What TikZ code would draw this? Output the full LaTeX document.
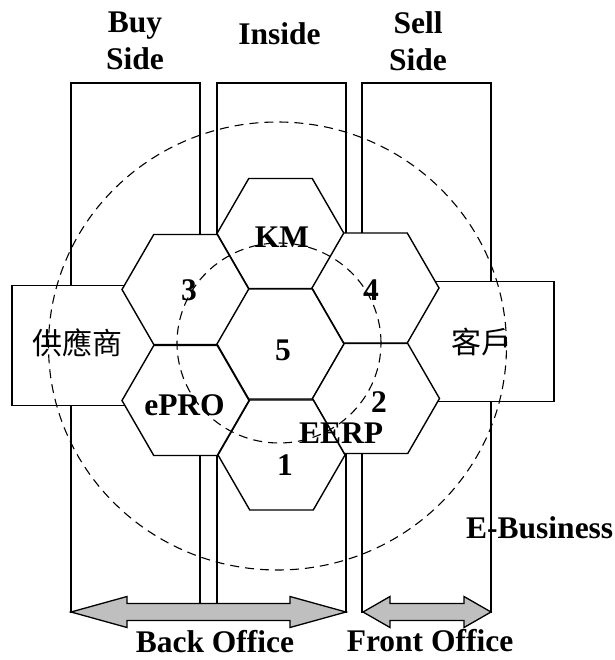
\documentclass[tikz,border=0pt]{standalone}
\usepackage{fontspec}
\setmainfont{Liberation Serif}
\newfontfamily\cjk{Noto Sans CJK TC}
\usetikzlibrary{shapes.geometric,calc}
\tikzset{
  column/.style={draw,line width=1.3pt,inner sep=0pt,outer sep=0pt,
    minimum width=129pt,minimum height=529pt},
  party/.style={draw,fill=white,line width=1.3pt,inner sep=0pt,outer sep=0pt,
    minimum height=120pt},
  cell/.style={regular polygon,regular polygon sides=6,draw,fill=white,
    line width=1.4pt,inner sep=0pt,outer sep=0pt,minimum size=127pt},
  ring/.style={draw,line width=1.1pt,dash pattern=on 9pt off 6pt},
  office/.style={draw,line width=1.3pt,fill=gray!50,line join=miter},
  lbl/.style={font=\bfseries\fontsize{31.5}{37}\selectfont,inner sep=0pt,anchor=base},
  cjklbl/.style={font=\cjk\fontsize{30}{36}\selectfont,inner sep=0pt},
}

\begin{document}
\begin{tikzpicture}[x=1pt,y=-1pt]
\useasboundingbox (0,0) rectangle (614,660);
% three columns
\node[column] (buy) at (135.5,347.5) {};
\node[column] (inside) at (281.5,347.5) {};
\node[column] (sell) at (426.5,347.5) {};
% office arrows
\coordinate (bo1) at (71,612);
\coordinate (bo2) at (346,612);
\coordinate (fo1) at (363,612);
\coordinate (fo2) at (491,612);
\draw[office] (bo1) -- ++(56,-15.5) -- ++(0,7) -- ($(bo2)+(-56,-8.5)$) -- ++(0,-7)
  -- (bo2) -- ++(-56,15.5) -- ++(0,-7) -- ($(bo1)+(56,8.5)$) -- ++(0,7) -- cycle;
\draw[office] (fo1) -- ++(27,-15.5) -- ++(0,7) -- ($(fo2)+(-27,-8.5)$) -- ++(0,-7)
  -- (fo2) -- ++(-27,15.5) -- ++(0,-7) -- ($(fo1)+(27,8.5)$) -- ++(0,7) -- cycle;
% supplier and customer
\node[party,minimum width=148pt] (supbox) at (86,345.5) {};
\node[party,minimum width=154pt] (cusbox) at (477,341.5) {};
% hexagon cells
\node[cell] (hexKM) at (280.5,233.5) {};
\node[cell] (hexThree) at (185.5,289.5) {};
\node[cell] (hexFour) at (375.5,288) {};
\node[cell] (hexFive) at (280.5,344) {};
\node[cell] (hexEPRO) at (185.5,400.5) {};
\node[cell] (hexTwo) at (376,398.5) {};
\node[cell] (hexOne) at (281.5,455) {};
% dashed rings
\draw[ring] (277.5,346) ellipse [x radius=229pt,y radius=224pt];
\draw[ring] (279,343) ellipse [x radius=102pt,y radius=100pt];
% texts
\node[lbl,anchor=center,align=center] (tBuy) at (135,41) {Buy\\Side};
\node[lbl] (tInside) at (279.5,45) {Inside};
\node[lbl,anchor=center,align=center] (tSell) at (418,41) {Sell\\Side};
\node[lbl] (tKM) at (282,247) {KM};
\node[lbl] (tThree) at (189,300) {3};
\node[lbl] (tFour) at (371,300) {4};
\node[lbl] (tFive) at (283,360) {5};
\node[lbl] (tTwo) at (379,412) {2};
\node[lbl] (tEPRO) at (184.5,415) {ePRO};
\node[lbl] (tEERP) at (341,443) {EERP};
\node[lbl] (tOne) at (285,475) {1};
\node[cjklbl] (tSup) at (77,343) {供應商};
\node[cjklbl] (tCus) at (481,342) {客戶};
\node[lbl,anchor=base west] (tEB) at (466,538) {E-Business};
\node[lbl] (tBack) at (215,652) {Back Office};
\node[lbl] (tFront) at (430,651) {Front Office};
\end{tikzpicture}
\end{document}
